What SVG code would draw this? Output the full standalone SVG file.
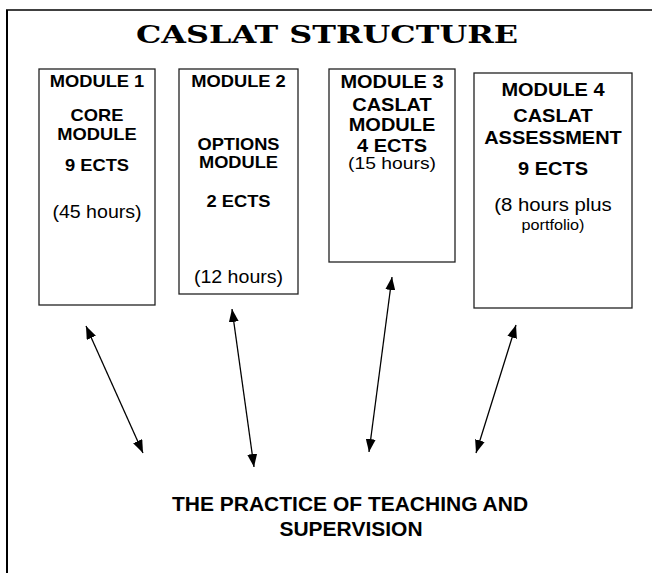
<svg xmlns="http://www.w3.org/2000/svg" width="652" height="573" viewBox="0 0 652 573">
<defs>
<marker id="ah" viewBox="0 0 13 10" refX="13" refY="5" markerWidth="13" markerHeight="10" markerUnits="userSpaceOnUse" orient="auto-start-reverse">
<path d="M0,0 L13,5 L0,10 Z" fill="#000"/>
</marker>
</defs>
<style>
.box{fill:#fff;stroke:#222;stroke-width:1.3}
.b{font-family:"Liberation Sans",Arial,sans-serif;font-weight:bold;text-anchor:middle;fill:#000}
.r{font-family:"Liberation Sans",Arial,sans-serif;text-anchor:middle;fill:#000}
.s1{font-size:16.5px}
.s3{font-size:18.5px}
.h{font-size:17.5px}
.title{font-family:"DejaVu Serif","Liberation Serif",serif;font-weight:bold;text-anchor:middle;fill:#000}
.conn line{stroke:#000;stroke-width:1.3;marker-start:url(#ah);marker-end:url(#ah)}
</style>
<rect width="652" height="573" fill="#fff"/>
<g id="frame">
<line x1="7" y1="10" x2="7" y2="573" stroke="#000" stroke-width="2"/>
<line x1="6" y1="10" x2="652" y2="10" stroke="#000" stroke-width="1.3"/>
</g>
<g id="title">
<text class="title" x="327" y="43" font-size="25" textLength="382" lengthAdjust="spacingAndGlyphs">CASLAT STRUCTURE</text>
</g>
<g id="module1">
<rect class="box" x="39" y="69" width="116" height="236"/>
<text class="b s1" transform="translate(97,87) scale(1.11,1)">MODULE 1</text>
<text class="b s1" transform="translate(97,121) scale(1.11,1)">CORE</text>
<text class="b s1" transform="translate(97,140) scale(1.11,1)">MODULE</text>
<text class="b s1" transform="translate(97,171) scale(1.11,1)">9 ECTS</text>
<text class="r h" transform="translate(97,218) scale(1.12,1)">(45 hours)</text>
</g>
<g id="module2">
<rect class="box" x="179" y="69" width="119" height="225"/>
<text class="b s1" transform="translate(238.5,87) scale(1.11,1)">MODULE 2</text>
<text class="b" font-size="16" transform="translate(238.5,150) scale(1.14,1)">OPTIONS</text>
<text class="b" font-size="16" transform="translate(238.5,168) scale(1.14,1)">MODULE</text>
<text class="b s1" transform="translate(238.5,207) scale(1.11,1)">2 ECTS</text>
<text class="r h" transform="translate(238.5,283) scale(1.12,1)">(12 hours)</text>
</g>
<g id="module3">
<rect class="box" x="329" y="69" width="126" height="193"/>
<text class="b s3" transform="translate(392,88) scale(1.08,1)">MODULE 3</text>
<text class="b s3" transform="translate(392,111) scale(1.08,1)">CASLAT</text>
<text class="b s3" transform="translate(392,130.5) scale(1.08,1)">MODULE</text>
<text class="b s3" transform="translate(392,151.5) scale(1.08,1)">4 ECTS</text>
<text class="r" font-size="16.5" transform="translate(392,169) scale(1.17,1)">(15 hours)</text>
</g>
<g id="module4">
<rect class="box" x="474" y="73" width="158" height="235"/>
<text class="b s3" transform="translate(553,96) scale(1.08,1)">MODULE 4</text>
<text class="b s3" transform="translate(553,122) scale(1.08,1)">CASLAT</text>
<text class="b s3" transform="translate(553,144) scale(1.08,1)">ASSESSMENT</text>
<text class="b s3" transform="translate(553,175) scale(1.08,1)">9 ECTS</text>
<text class="r" font-size="18.5" transform="translate(553,211) scale(1.1,1)">(8 hours plus</text>
<text class="r" font-size="15" transform="translate(553,230) scale(1.08,1)">portfolio)</text>
</g>
<g id="practice">
<text class="b" font-size="20" transform="translate(350,511) scale(1.05,1)">THE PRACTICE OF TEACHING AND</text>
<text class="b" font-size="20" transform="translate(351,536) scale(1.05,1)">SUPERVISION</text>
</g>
<g id="connectors" class="conn">
<line x1="86" y1="326" x2="143" y2="453"/>
<line x1="232" y1="309" x2="254" y2="467"/>
<line x1="392" y1="277" x2="369" y2="452"/>
<line x1="516" y1="325" x2="476" y2="453"/>
</g>
</svg>
